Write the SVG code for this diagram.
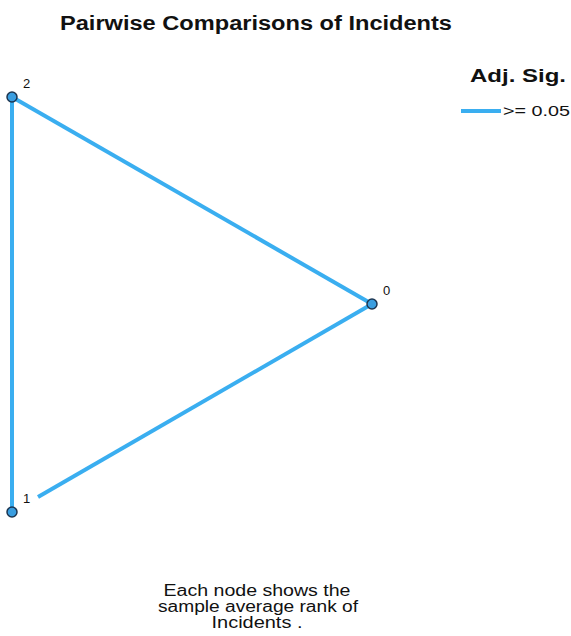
<svg xmlns="http://www.w3.org/2000/svg" width="571" height="636" viewBox="0 0 571 636">
<style>
text{font-family:"Liberation Sans",Arial,sans-serif;fill:#111}
.e{stroke:#3aaef0;stroke-width:4;fill:none}
.n{fill:#3a9ee0;stroke:#1c3550;stroke-width:1.5}
.lbl{font-size:13px}
.ft{font-size:16px;text-anchor:middle}
</style>
<rect width="571" height="636" fill="#fff"/>
<text x="256" y="30" font-size="20" font-weight="bold" text-anchor="middle" textLength="392" lengthAdjust="spacingAndGlyphs">Pairwise Comparisons of Incidents</text>
<g id="legend">
<text x="518" y="82" font-size="19" font-weight="bold" text-anchor="middle" textLength="96" lengthAdjust="spacingAndGlyphs">Adj. Sig.</text>
<line class="e" x1="461" y1="111" x2="501" y2="111"/>
<text x="503" y="116" font-size="15" textLength="67" lengthAdjust="spacingAndGlyphs">&gt;= 0.05</text>
</g>
<g id="edges">
<line class="e" x1="12" y1="97" x2="372" y2="304"/>
<line class="e" x1="12" y1="97" x2="12" y2="512"/>
<line class="e" x1="372" y1="304" x2="38" y2="497"/>
</g>
<g id="node2"><circle class="n" cx="12" cy="97" r="5"/><text class="lbl" x="23" y="88">2</text></g>
<g id="node0"><circle class="n" cx="372" cy="304" r="5"/><text class="lbl" x="383" y="295">0</text></g>
<g id="node1"><circle class="n" cx="12" cy="512" r="5"/><text class="lbl" x="23" y="503">1</text></g>
<text class="ft" x="257" y="596" textLength="187" lengthAdjust="spacingAndGlyphs">Each node shows the</text>
<text class="ft" x="258" y="612" textLength="200" lengthAdjust="spacingAndGlyphs">sample average rank of</text>
<text class="ft" x="257" y="628" textLength="91" lengthAdjust="spacingAndGlyphs">Incidents .</text>
</svg>
